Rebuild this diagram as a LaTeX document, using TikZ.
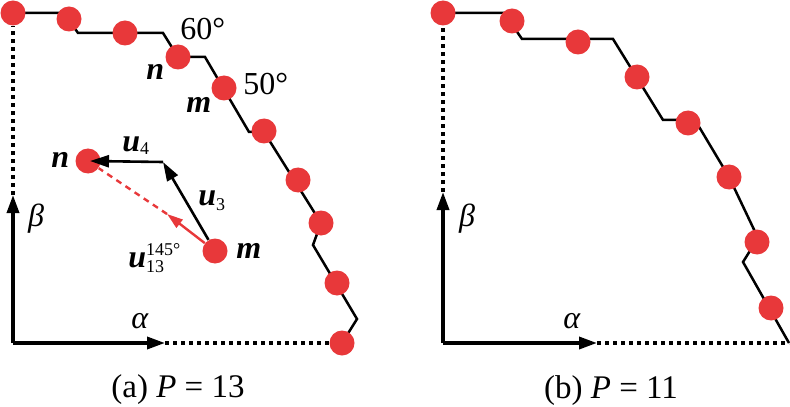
\documentclass[tikz,border=0pt]{standalone}
\usepackage{fontspec}
\setmainfont{LiberationSerif}[Extension=.ttf,UprightFont=*-Regular,BoldFont=*-Bold,ItalicFont=*-Italic,BoldItalicFont=*-BoldItalic]
\usetikzlibrary{arrows.meta}
\definecolor{DotRed}{HTML}{E8383A}
\newcommand{\bi}[1]{\textbf{\textit{#1}}}
\newcommand{\ssc}{\fontsize{9}{10}\selectfont}

\tikzset{
  dot/.style={circle,fill=DotRed,inner sep=0pt,minimum size=12.5pt},
  bound/.style={line width=1.25pt,line join=miter},
  axis/.style={line width=1.75pt,-{Triangle[length=9pt,width=6pt]}},
  dotline/.style={line width=1.6pt,dash pattern=on 2pt off 2pt},
  vec/.style={line width=1.3pt,-{Triangle[length=9.5pt,width=6pt]}},
  redvec/.style={DotRed,line width=1.2pt,-{Triangle[length=8pt,width=5pt]}},
  lab/.style={inner sep=0pt,anchor=base west},
}

\begin{document}
\begin{tikzpicture}[x=0.5pt,y=-0.5pt,font=\fontsize{16}{18}\selectfont]
  \useasboundingbox (0,0) rectangle (790,406);
  % (a) P = 13
  \draw[bound] (13,13) -- (64,13) -- (78,33) -- (163,33) -- (178,57) -- (205,57) -- (249,132)
    -- (264,132) -- (321,223) -- (313,245) -- (357,319) -- (342,343);
  \foreach \x/\y [count=\i] in {13/13,69/19,125/33,178/57,224/88,264/131,298/180,321/223,337/283,342/343}
    {\node[dot] (a\i) at (\x,\y) {};}
  \coordinate (oa) at (13,343);
  \coordinate (ya) at (13,195);
  \coordinate (xa) at (165,343);
  \draw[axis] (oa) -- (ya);
  \draw[axis] (oa) -- (xa);
  \draw[dotline] (ya) -- (a1);
  \draw[dotline] (xa) -- (a10);
  \node (lba) at (36,219) {\textit{β}};
  \node (laa) at (140,321) {\textit{α}};
  \node[lab] (l60) at (180,40) {60°};
  \node[lab] (l50) at (243,95) {50°};
  \node[lab] (lnt) at (146,80) {\bi{n}};
  \node[lab] (lmt) at (186,113) {\bi{m}};
  % vectors between n and m
  \node[dot] (n) at (88,161) {};
  \node[dot] (m) at (215,251) {};
  \coordinate (c) at (163,162);
  \coordinate (t) at (167,214);
  \draw[vec] (m) -- (c);
  \draw[vec] (c) -- ([xshift=1pt]n.center);
  \draw[redvec] (m) -- (t);
  \draw[DotRed,line width=1.2pt,dash pattern=on 3pt off 2.5pt] (t) -- (n);
  \node[lab] (ln) at (51,168) {\bi{n}};
  \node[lab] (lm) at (236,258) {\bi{m}};
  \node[lab] (lu4) at (122,152) {\bi{u}\raisebox{-1.5pt}{\ssc 4}};
  \node[lab] (lu3) at (198,205) {\bi{u}\raisebox{-2.5pt}{\ssc 3}};
  \node[lab] (lu13) at (128,267) {\bi{u}\makebox[0pt][l]{\raisebox{6pt}{\ssc 145°}}\raisebox{-2.5pt}{\ssc 13}};
  \node[anchor=base,font=\fontsize{16.5}{18}\selectfont] (capa) at (178,397) {(a) \textit{P} = 13};
  % (b) P = 11
  \draw[bound] (443,13) -- (504,13) -- (522,39) -- (613,39) -- (663,120) -- (695,120) -- (729,177)
    -- (758,238) -- (743,262) -- (789,343);
  \foreach \x/\y [count=\i] in {443/13,512/21,578/42,637/77,688/123,729/177,757/242,771/308}
    {\node[dot] (b\i) at (\x,\y) {};}
  \coordinate (ob) at (443,343);
  \coordinate (yb) at (443,192);
  \coordinate (xb) at (597,343);
  \coordinate (eb) at (789,343);
  \draw[axis] (ob) -- (yb);
  \draw[axis] (ob) -- (xb);
  \draw[dotline] (yb) -- (b1);
  \draw[dotline] (xb) -- (eb);
  \node (lbb) at (467,219) {\textit{β}};
  \node (lab) at (572,321) {\textit{α}};
  \node[anchor=base,font=\fontsize{16.5}{18}\selectfont] (capb) at (611,398) {(b) \textit{P} = 11};
\end{tikzpicture}
\end{document}
